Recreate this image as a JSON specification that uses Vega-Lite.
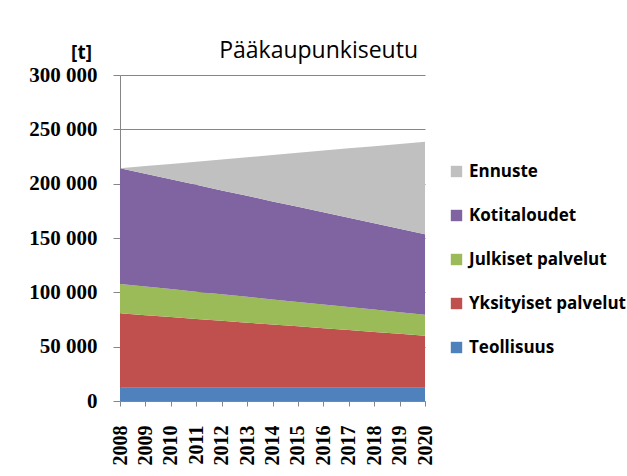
{
  "$schema": "https://vega.github.io/schema/vega-lite/v6.json",
  "autosize": "none",
  "width": 305,
  "height": 326,
  "padding": {"left": 120, "top": 75, "right": 202, "bottom": 75},
  "background": "white",
  "config": {
    "locale": {"number": {"decimal": ",", "thousands": " ", "grouping": [3], "currency": ["", ""]}},
    "view": {"stroke": null}
  },
  "title": {"text": "Pääkaupunkiseutu", "anchor": "end", "frame": "group", "font": "Open Sans", "fontSize": 23, "fontWeight": 500, "color": "#000000", "dx": -7, "dy": 59, "offset": 21, "baseline": "alphabetic"},
  "data": {"values": [
    {"vuosi": 2008, "sektori": "Teollisuus", "t": 12200},
    {"vuosi": 2009, "sektori": "Teollisuus", "t": 12200},
    {"vuosi": 2010, "sektori": "Teollisuus", "t": 12200},
    {"vuosi": 2011, "sektori": "Teollisuus", "t": 12200},
    {"vuosi": 2012, "sektori": "Teollisuus", "t": 12200},
    {"vuosi": 2013, "sektori": "Teollisuus", "t": 12200},
    {"vuosi": 2014, "sektori": "Teollisuus", "t": 12200},
    {"vuosi": 2015, "sektori": "Teollisuus", "t": 12200},
    {"vuosi": 2016, "sektori": "Teollisuus", "t": 12200},
    {"vuosi": 2017, "sektori": "Teollisuus", "t": 12200},
    {"vuosi": 2018, "sektori": "Teollisuus", "t": 12200},
    {"vuosi": 2019, "sektori": "Teollisuus", "t": 12200},
    {"vuosi": 2020, "sektori": "Teollisuus", "t": 12200},
    {"vuosi": 2008, "sektori": "Yksityiset palvelut", "t": 68500},
    {"vuosi": 2009, "sektori": "Yksityiset palvelut", "t": 66800},
    {"vuosi": 2010, "sektori": "Yksityiset palvelut", "t": 65100},
    {"vuosi": 2011, "sektori": "Yksityiset palvelut", "t": 63300},
    {"vuosi": 2012, "sektori": "Yksityiset palvelut", "t": 61600},
    {"vuosi": 2013, "sektori": "Yksityiset palvelut", "t": 59900},
    {"vuosi": 2014, "sektori": "Yksityiset palvelut", "t": 58200},
    {"vuosi": 2015, "sektori": "Yksityiset palvelut", "t": 56500},
    {"vuosi": 2016, "sektori": "Yksityiset palvelut", "t": 54800},
    {"vuosi": 2017, "sektori": "Yksityiset palvelut", "t": 53100},
    {"vuosi": 2018, "sektori": "Yksityiset palvelut", "t": 51300},
    {"vuosi": 2019, "sektori": "Yksityiset palvelut", "t": 49600},
    {"vuosi": 2020, "sektori": "Yksityiset palvelut", "t": 47900},
    {"vuosi": 2008, "sektori": "Julkiset palvelut", "t": 27000},
    {"vuosi": 2009, "sektori": "Julkiset palvelut", "t": 26400},
    {"vuosi": 2010, "sektori": "Julkiset palvelut", "t": 25700},
    {"vuosi": 2011, "sektori": "Julkiset palvelut", "t": 25100},
    {"vuosi": 2012, "sektori": "Julkiset palvelut", "t": 24400},
    {"vuosi": 2013, "sektori": "Julkiset palvelut", "t": 23800},
    {"vuosi": 2014, "sektori": "Julkiset palvelut", "t": 23100},
    {"vuosi": 2015, "sektori": "Julkiset palvelut", "t": 22500},
    {"vuosi": 2016, "sektori": "Julkiset palvelut", "t": 21900},
    {"vuosi": 2017, "sektori": "Julkiset palvelut", "t": 21200},
    {"vuosi": 2018, "sektori": "Julkiset palvelut", "t": 20600},
    {"vuosi": 2019, "sektori": "Julkiset palvelut", "t": 19900},
    {"vuosi": 2020, "sektori": "Julkiset palvelut", "t": 19300},
    {"vuosi": 2008, "sektori": "Kotitaloudet", "t": 106400},
    {"vuosi": 2009, "sektori": "Kotitaloudet", "t": 103700},
    {"vuosi": 2010, "sektori": "Kotitaloudet", "t": 101000},
    {"vuosi": 2011, "sektori": "Kotitaloudet", "t": 98300},
    {"vuosi": 2012, "sektori": "Kotitaloudet", "t": 95600},
    {"vuosi": 2013, "sektori": "Kotitaloudet", "t": 92900},
    {"vuosi": 2014, "sektori": "Kotitaloudet", "t": 90200},
    {"vuosi": 2015, "sektori": "Kotitaloudet", "t": 87500},
    {"vuosi": 2016, "sektori": "Kotitaloudet", "t": 84800},
    {"vuosi": 2017, "sektori": "Kotitaloudet", "t": 82100},
    {"vuosi": 2018, "sektori": "Kotitaloudet", "t": 79400},
    {"vuosi": 2019, "sektori": "Kotitaloudet", "t": 76700},
    {"vuosi": 2020, "sektori": "Kotitaloudet", "t": 74000},
    {"vuosi": 2008, "sektori": "Ennuste", "t": 0},
    {"vuosi": 2009, "sektori": "Ennuste", "t": 7100},
    {"vuosi": 2010, "sektori": "Ennuste", "t": 14200},
    {"vuosi": 2011, "sektori": "Ennuste", "t": 21300},
    {"vuosi": 2012, "sektori": "Ennuste", "t": 28400},
    {"vuosi": 2013, "sektori": "Ennuste", "t": 35500},
    {"vuosi": 2014, "sektori": "Ennuste", "t": 42600},
    {"vuosi": 2015, "sektori": "Ennuste", "t": 49700},
    {"vuosi": 2016, "sektori": "Ennuste", "t": 56800},
    {"vuosi": 2017, "sektori": "Ennuste", "t": 63900},
    {"vuosi": 2018, "sektori": "Ennuste", "t": 71000},
    {"vuosi": 2019, "sektori": "Ennuste", "t": 78100},
    {"vuosi": 2020, "sektori": "Ennuste", "t": 85200}
  ]},
  "transform": [
    {"calculate": "indexof(['Teollisuus','Yksityiset palvelut','Julkiset palvelut','Kotitaloudet','Ennuste'], datum.sektori)", "as": "k"}
  ],
  "mark": {"type": "area", "interpolate": "linear"},
  "encoding": {
    "x": {
      "field": "vuosi", "type": "quantitative",
      "scale": {"domain": [2008, 2020], "nice": false, "zero": false},
      "axis": {
        "title": null,
        "values": [2008, 2009, 2010, 2011, 2012, 2013, 2014, 2015, 2016, 2017, 2018, 2019, 2020],
        "format": "d", "labelAngle": -90, "labelAlign": "right", "labelBaseline": "middle",
        "labelFont": "Liberation Serif", "labelFontWeight": "bold", "labelFontSize": 20, "labelColor": "#000000",
        "labelPadding": 19, "labelOverlap": false, "labelFlush": false, "labelBound": false,
        "tickSize": 5, "tickColor": "#868686", "domainColor": "#868686", "grid": false
      }
    },
    "y": {
      "field": "t", "type": "quantitative", "stack": "zero",
      "scale": {"domain": [0, 300000], "nice": false},
      "axis": {
        "title": "[t]", "titleAngle": 0, "titleAlign": "center", "titleBaseline": "alphabetic",
        "titleX": -39, "titleY": -17, "titleFont": "Open Sans", "titleFontWeight": "bold", "titleFontSize": 19, "titleColor": "#000000",
        "values": [0, 50000, 100000, 150000, 200000, 250000, 300000],
        "format": ",d",
        "labelFont": "Liberation Serif", "labelFontWeight": "bold", "labelFontSize": 21, "labelColor": "#000000",
        "labelPadding": 16, "tickSize": 7, "tickColor": "#868686", "domainColor": "#868686",
        "grid": true, "gridColor": "#868686", "gridWidth": 1, "labelFlush": false
      }
    },
    "color": {
      "field": "sektori", "type": "nominal",
      "scale": {
        "domain": ["Ennuste", "Kotitaloudet", "Julkiset palvelut", "Yksityiset palvelut", "Teollisuus"],
        "range": ["#C0C0C0", "#8064A2", "#9BBB59", "#C0504D", "#4F81BD"]
      },
      "legend": {
        "title": null, "orient": "none", "legendX": 328, "legendY": 88,
        "symbolType": "square", "symbolSize": 130, "symbolStrokeWidth": 0, "symbolOpacity": 1,
        "labelFont": "Open Sans", "labelFontWeight": "bold", "labelFontSize": 17, "labelColor": "#000000",
        "labelOffset": 4, "labelLimit": 0, "rowPadding": 26, "padding": 0
      }
    },
    "order": {"field": "k", "type": "quantitative"}
  }
}
